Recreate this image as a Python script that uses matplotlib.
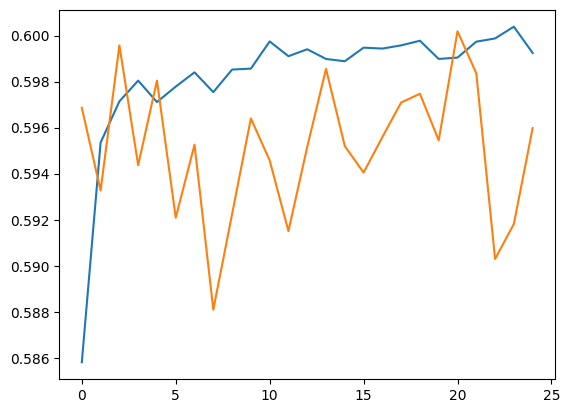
import numpy as np
import matplotlib
matplotlib.use("Agg")
import matplotlib.pyplot as plt

# valori
epoci = np.arange(25)
serie_albastra = [0.58583, 0.59536, 0.59715, 0.59805, 0.59712, 0.59779, 0.59841,
                  0.59755, 0.59853, 0.59857, 0.59975, 0.59911, 0.59941, 0.59899,
                  0.59889, 0.59948, 0.59944, 0.59958, 0.59978, 0.59899, 0.59905,
                  0.59974, 0.59988, 0.60039, 0.59925]
serie_portocalie = [0.59687, 0.59328, 0.59958, 0.59438, 0.59805, 0.59210, 0.59527,
                    0.58811, 0.59226, 0.59641, 0.59459, 0.59152, 0.59517, 0.59856,
                    0.59521, 0.59406, 0.59560, 0.59710, 0.59748, 0.59546, 0.60019,
                    0.59837, 0.59031, 0.59183, 0.59599]

fig = plt.figure(figsize=(5.7, 4.13), dpi=100)
plt.subplots_adjust(left=0.104, right=0.974, top=0.976, bottom=0.0823)

plt.plot(epoci, serie_albastra)
plt.plot(epoci, serie_portocalie)

plt.savefig("out.png", dpi=100)
